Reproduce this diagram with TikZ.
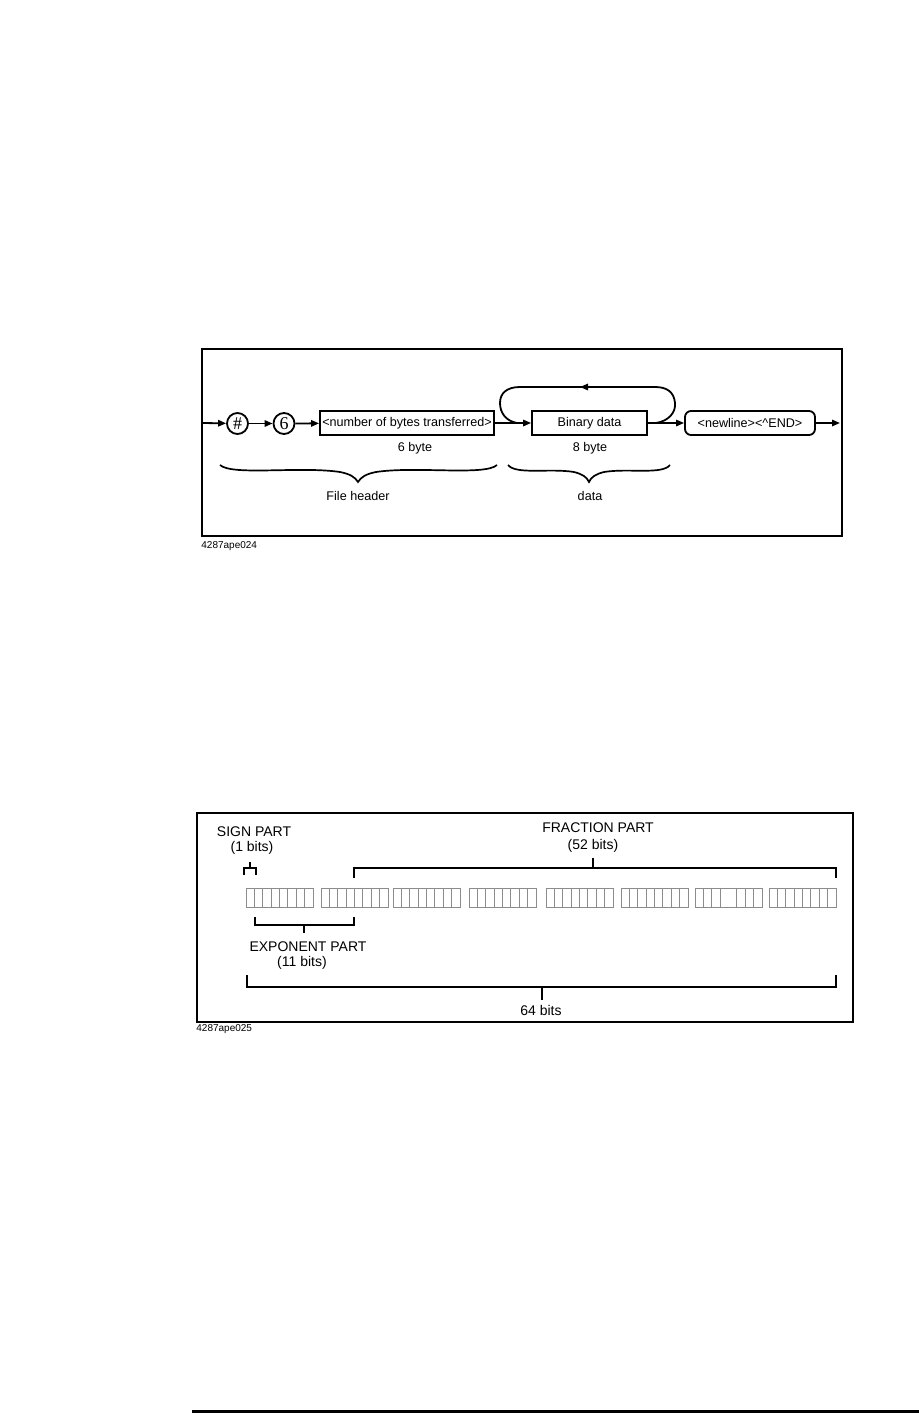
\documentclass[tikz,border=0pt]{standalone}
\usepackage{fontspec}
\setmainfont{Liberation Sans}
\newfontfamily\symfont{Liberation Serif}
\usetikzlibrary{arrows.meta}
\begin{document}
\begin{tikzpicture}[x=0.5pt,y=-0.5pt,
  conn/.style={line width=0.9pt,-{Triangle[length=4pt,width=3.2pt]}},
  plainline/.style={line width=0.9pt},
  syntaxbox/.style={draw,line width=0.9pt,inner sep=0pt,minimum height=12pt,font=\fontsize{6.3pt}{7pt}\selectfont},
  roundbox/.style={syntaxbox,rounded corners=3pt},
  circ/.style={draw,circle,line width=0.9pt,inner sep=0pt,minimum size=10.5pt,font=\symfont\fontsize{9pt}{9pt}\selectfont},
  toptext/.style={inner sep=0pt,font=\fontsize{6.3pt}{7pt}\selectfont},
  bottext/.style={inner sep=0pt,font=\fontsize{7pt}{8pt}\selectfont},
  figlabel/.style={inner sep=0pt,anchor=west,font=\fontsize{5pt}{6pt}\selectfont},
  frame/.style={draw,line width=1pt},
  bframe/.style={draw,line width=0.65pt},
  cell/.style={draw=black!45,line width=0.5pt},
  bracket/.style={line width=1.1pt},
  brace/.style={line width=0.85pt}
]
\useasboundingbox (0,0) rectangle (919,1413);

% ---------- top diagram ----------
\draw[frame] (202,349) rectangle (842,536);
\coordinate (start) at (202,423);
\coordinate (stop) at (840,423);
\node[circ] (sharp) at (237.5,423.5) {\#};
\node[circ] (six) at (284,423.5) {6};
\node[syntaxbox,minimum width=87pt] (nbytes) at (407,423) {<number of bytes transferred>};
\node[syntaxbox,minimum width=57.5pt] (bin) at (589.5,423) {Binary data};
\node[roundbox,minimum width=65pt] (nl) at (750,423) {<newline><\textasciicircum END>};

\draw[conn] (start) -- (sharp);
\draw[conn] (sharp) -- (six);
\draw[conn] (six) -- (nbytes);
\draw[conn] (nbytes) -- (bin);
\draw[conn] (bin) -- (nl);
\draw[conn] (nl) -- (stop);

% loop back
\coordinate (loopout) at (656,423);
\coordinate (loopin) at (517,423);
\coordinate (looparrowstart) at (605,387);
\coordinate (looparrowtip) at (580,387);
\draw[plainline] (loopout) .. controls (669,421) and (676,412) .. (675,403)
  .. controls (674,392) and (667,387) .. (655,387) -- (520,387)
  .. controls (507,387) and (500,393) .. (500,403)
  .. controls (500,413) and (506,421) .. (loopin);
\draw[conn] (looparrowstart) -- (looparrowtip);

\node[toptext] (b6) at (415,448) {6 byte};
\node[toptext] (b8) at (590,448) {8 byte};

\draw[brace] (220,465) .. controls (232,476) and (300,466) .. (340,472)
  .. controls (350,474) and (355,477) .. (358,482)
  .. controls (361,477) and (366,474) .. (376,472)
  .. controls (416,466) and (485,476) .. (497,465);
\draw[brace] (508,465) .. controls (516,475) and (550,468) .. (574,472)
  .. controls (582,474) and (587,477) .. (589,482)
  .. controls (591,477) and (596,474) .. (604,472)
  .. controls (628,468) and (662,475) .. (670,465);

\node[toptext] (fh) at (358,496) {File header};
\node[toptext] (dt) at (590,496) {data};
\node[figlabel] (lab1) at (201,546) {4287ape024};

% ---------- bottom diagram ----------
\draw[bframe] (197,813) rectangle (853,1022);

\node[bottext] (sign) at (254,832) {SIGN PART};
\node[bottext] (sign2) at (252,848) {(1 bits)};
\node[bottext] (frac) at (598,828) {FRACTION PART};
\node[bottext] (frac2) at (593,846) {(52 bits)};
\node[bottext] (expo) at (308,947) {EXPONENT PART};
\node[bottext] (expo2) at (302,963) {(11 bits)};
\node[bottext] (all) at (541,1010) {64 bits};

\foreach \s [count=\g] in {246,321,393,469,546,621,695,769}{
  \draw[cell] (\s,888) rectangle ++(67,19);
  \foreach \k in {1,...,7}{
    \ifnum\g\k=74 \else
      \draw[cell] ({\s+\k*8.375},888) -- ++(0,19);
    \fi
  }
}

% sign bracket
\draw[bracket] (244,875) -- (244,868) -- (256,868) -- (256,875);
\draw[bracket] (250,868) -- (250,862);
% fraction bracket
\draw[bracket] (354,878) -- (354,868) -- (836,868) -- (836,878);
\draw[bracket] (593,868) -- (593,858);
% exponent bracket
\draw[bracket] (255,917) -- (255,925) -- (354,925) -- (354,917);
\draw[bracket] (304,925) -- (304,933);
% 64 bits bracket
\draw[bracket] (247,975) -- (247,987) -- (836,987) -- (836,975);
\draw[bracket] (542,987) -- (542,1000);

\node[figlabel] (lab2) at (196,1029) {4287ape025};

% footer rule
\draw[line width=1.5pt] (192,1411) -- (919,1411);
\end{tikzpicture}
\end{document}
